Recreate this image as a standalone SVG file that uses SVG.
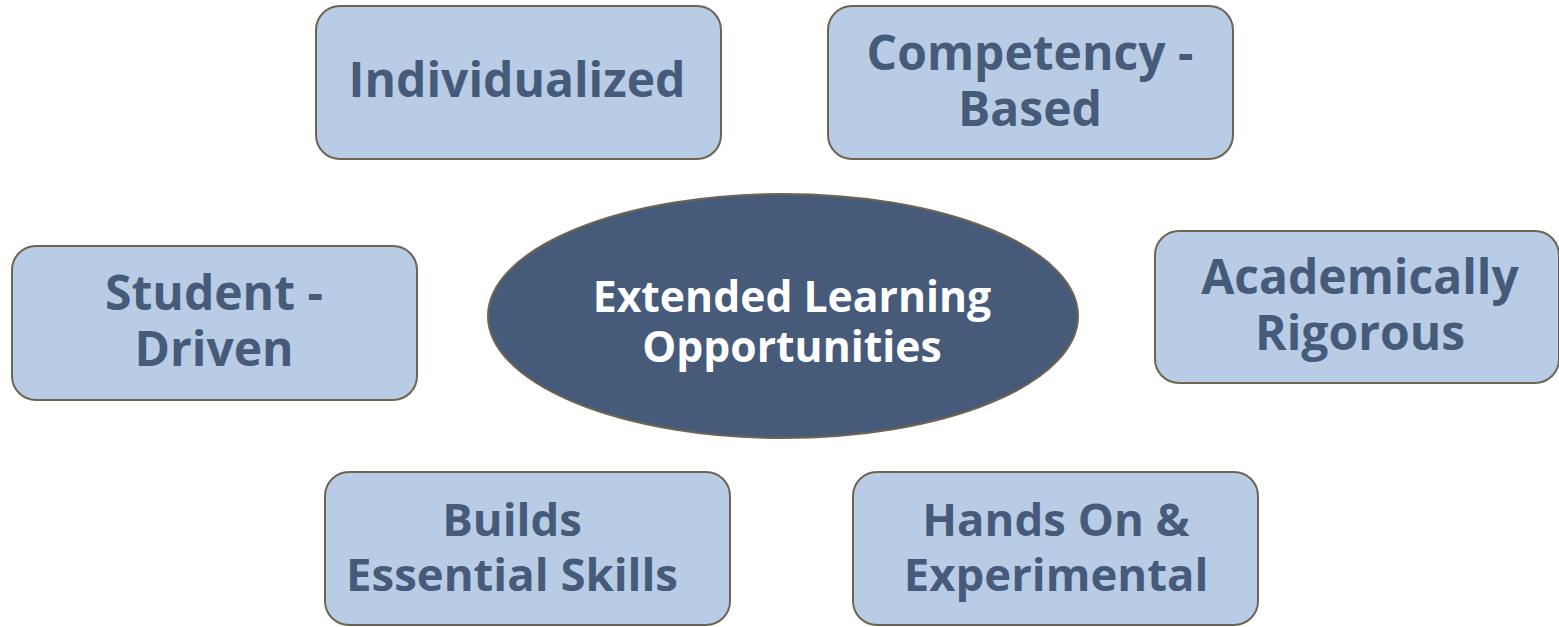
<svg xmlns="http://www.w3.org/2000/svg" width="1559" height="627" viewBox="0 0 1559 627">
<style>
.box{fill:#b8cde5;stroke:#6e6450;stroke-width:2}
.lbl{font-family:"Open Sans","Noto Sans",sans-serif;font-weight:700;font-size:48px;fill:#465a7a;text-anchor:middle}
.sm{font-size:45.5px}
.ctr{font-family:"Open Sans","Noto Sans",sans-serif;font-weight:700;font-size:42.7px;fill:#ffffff;text-anchor:middle}
</style>
<rect width="1559" height="627" fill="#ffffff"/>
<g id="connectors"></g>
<g id="center">
<ellipse cx="783" cy="316" rx="295" ry="122" fill="#465a7a" stroke="#6e6450" stroke-width="2"/>
<text class="ctr" x="792" y="312">Extended Learning</text>
<text class="ctr" x="792" y="362">Opportunities</text>
</g>
<g id="individualized">
<rect class="box" x="316" y="6" width="405" height="153" rx="24"/>
<text class="lbl" x="517" y="97">Individualized</text>
</g>
<g id="competency">
<rect class="box" x="828" y="6" width="405" height="153" rx="24"/>
<text class="lbl" x="1030" y="70">Competency -</text>
<text class="lbl" x="1030" y="126">Based</text>
</g>
<g id="student">
<rect class="box" x="12" y="246" width="405" height="154" rx="24"/>
<text class="lbl" x="214" y="310">Student -</text>
<text class="lbl" x="214" y="366">Driven</text>
</g>
<g id="academically">
<rect class="box" x="1155" y="231" width="404" height="152" rx="24"/>
<text class="lbl" x="1360" y="294">Academically</text>
<text class="lbl" x="1360" y="350">Rigorous</text>
</g>
<g id="builds">
<rect class="box" x="325" y="472" width="405" height="153" rx="24"/>
<text class="lbl sm" x="512" y="536">Builds</text>
<text class="lbl sm" x="512" y="591">Essential Skills</text>
</g>
<g id="handson">
<rect class="box" x="853" y="472" width="405" height="153" rx="24"/>
<text class="lbl sm" x="1056" y="536">Hands On &amp;</text>
<text class="lbl sm" x="1056" y="591">Experimental</text>
</g>
</svg>
